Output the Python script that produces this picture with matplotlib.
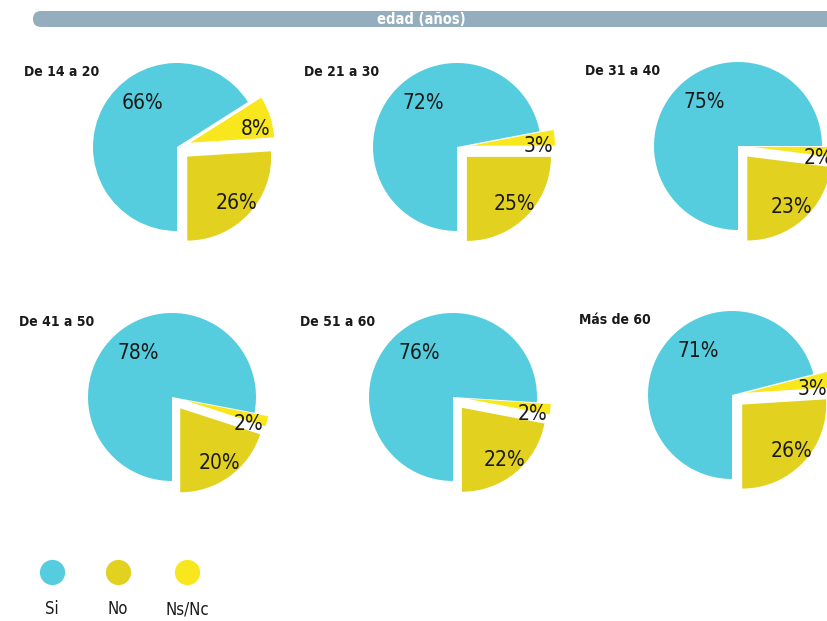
import numpy as np
import matplotlib
matplotlib.use("Agg")
import matplotlib.pyplot as plt
from matplotlib.patches import FancyBboxPatch

# data
grupos = ['De 14 a 20', 'De 21 a 30', 'De 31 a 40', 'De 41 a 50', 'De 51 a 60', 'Más de 60']
si = [66, 72, 75, 78, 76, 71]
no = [26, 25, 23, 20, 22, 26]
nsnc = [8, 3, 2, 2, 2, 3]
leyenda = ['Si', 'No', 'Ns/Nc']

col_si = '#56CDDE'
col_no = '#E2D11F'
col_ns = '#F8E71C'

W, H = 827, 621
fig = plt.figure(figsize=(W / 100, H / 100), dpi=100)
ax = fig.add_axes([0, 0, 1, 1])

fam = ['DejaVu Sans']

# pie centers in pixel coords (image y measured from the top)
centers = [(177, 147), (457, 147), (738, 146), (172, 397), (453, 397), (732, 395)]
R = 84
EXPL = 14

for i in range(6):
    cx, cy = centers[i]
    cy = H - cy
    vals = [no[i], nsnc[i], si[i]]
    wedges, _ = ax.pie(vals, colors=[col_no, col_ns, col_si], startangle=270,
                       counterclock=True, radius=R, center=(cx, cy),
                       explode=[EXPL, EXPL, 0], frame=True,
                       wedgeprops=dict(linewidth=0))
    # percentage labels
    for j, w in enumerate(wedges):
        x0, y0 = w.center
        mid = (w.theta1 + w.theta2) / 2
        if j == 2:
            ang, d = 128, 0.66 * R
        elif j == 1:
            ang, d = mid - 6, 0.8 * R
        else:
            ang, d = mid, 0.8 * R
        ang = np.deg2rad(ang)
        ax.text(x0 + d * np.cos(ang), y0 + d * np.sin(ang), '%d%%' % vals[j],
                ha='center', va='center', fontsize=15, family=fam,
                fontstretch='condensed', color='#1a1a1a')
    # group title
    ax.text(cx - 153, cy + 75, grupos[i], ha='left', va='center', fontsize=10,
            color='#1a1a1a', family=fam, fontstretch='condensed', fontweight='bold')

# header bar
bar = FancyBboxPatch((33, H - 27), 810, 16, boxstyle='round,pad=0,rounding_size=8',
                     facecolor='#94AEBD', edgecolor='none')
ax.add_patch(bar)
ax.text(421, H - 19.5, 'edad (años)', ha='center', va='center', fontsize=10.5,
        color='white', fontweight='bold', family=fam, fontstretch='condensed')

# legend
lx = [52, 118, 187]
for k, c in enumerate([col_si, col_no, col_ns]):
    ax.scatter([lx[k]], [H - 572], s=330, color=c, linewidths=0)
    ax.text(lx[k], H - 609, leyenda[k], ha='center', va='center', fontsize=12,
            color='#1a1a1a', family=fam, fontstretch='condensed')

ax.set_xlim(0, W)
ax.set_ylim(0, H)
ax.set_aspect('equal')
ax.axis('off')

fig.savefig('out.png', dpi=100)
